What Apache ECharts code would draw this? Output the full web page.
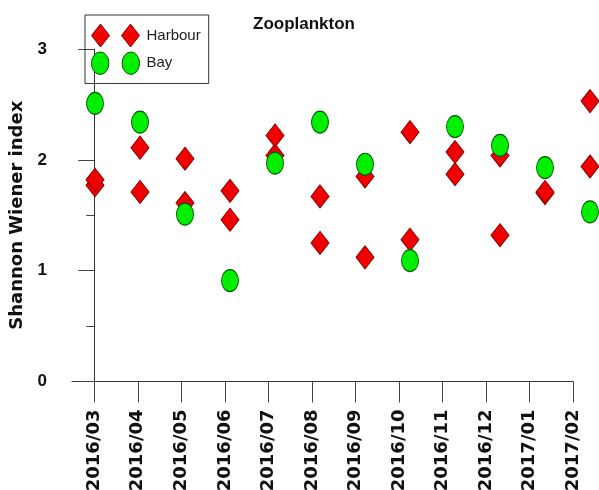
<!DOCTYPE html>
<html>
<head>
<meta charset="utf-8">
<script src="https://cdn.jsdelivr.net/npm/echarts@6/dist/echarts.min.js"></script>
<style>html,body{margin:0;padding:0;background:#fff}#c{width:599px;height:490px}</style>
</head>
<body>
<div id="c"></div>
<script>
const months = ['2016/03','2016/04','2016/05','2016/06','2016/07','2016/08','2016/09','2016/10','2016/11','2016/12','2017/01','2017/02'];
const harbourA = [1.82, 2.11, 2.01, 1.72, 2.22, 1.67, 1.85, 2.25, 2.07, 2.04, 1.71, 2.53];
const harbourB = [1.77, 1.71, 1.61, 1.46, 2.04, 1.25, 1.12, 1.28, 1.87, 1.32, 1.70, 1.94];
const bay      = [2.51, 2.34, 1.51, 0.91, 1.97, 2.34, 1.96, 1.09, 2.30, 2.13, 1.93, 1.53];
const yMin = 0, yMax = 3;

const idx = months.map((m, i) => i);
const pairs = arr => arr.map((v, i) => [i, v]);

const redStyle = { color: '#f00000', borderColor: '#8a0000', borderWidth: 1, opacity: 1 };
const greenStyle = { color: '#00ee00', borderColor: '#005a00', borderWidth: 1, opacity: 1 };
const twoDiamonds = 'path://M9,0 L18,11.5 L9,23 L0,11.5 Z M39,0 L48,11.5 L39,23 L30,11.5 Z';
const twoCircles = 'path://M8.5,0 A8.5,11 0 1,1 8.5,22 A8.5,11 0 1,1 8.5,0 Z M38.5,0 A8.5,11 0 1,1 38.5,22 A8.5,11 0 1,1 38.5,0 Z';

const chart = echarts.init(document.getElementById('c'));
chart.setOption({
  animation: false,
  backgroundColor: '#fff',
  title: {
    text: 'Zooplankton', left: 248, top: 11,
    textStyle: { fontFamily: 'Liberation Sans, Arial, sans-serif', fontWeight: 'bold', fontSize: 17, color: '#111' }
  },
  legend: {
    orient: 'vertical', left: 85, top: 15,
    padding: [8.5, 8, 8.5, 6], itemGap: 4,
    itemWidth: 48, itemHeight: 23,
    borderColor: '#333', borderWidth: 1,
    textStyle: { fontFamily: "'Liberation Sans', Arial, sans-serif", fontSize: 15, color: '#222', padding: [0,0,0,2] },
    data: [
      { name: 'Harbour', icon: twoDiamonds, itemStyle: redStyle },
      { name: 'Bay', icon: twoCircles, itemStyle: greenStyle }
    ],
    selectedMode: false
  },
  grid: [
    { left: 72, right: 26, top: 49, bottom: 108.5, outerBoundsMode: 'none', containLabel: false },
    { left: 95, right: 9, top: 49, bottom: 108.5, outerBoundsMode: 'none', containLabel: false }
  ],
  xAxis: [
    {
      type: 'value', gridIndex: 0, min: -0.512, max: 11,
      axisLine: { show: true, onZero: false, lineStyle: { color: '#333', width: 1 } },
      axisTick: { show: true, inside: false, length: 21, customValues: idx, lineStyle: { color: '#444' } },
      axisLabel: {
        show: true, rotate: 90, margin: 28, customValues: idx,
        formatter: v => months[Math.round(v)] || '',
        fontFamily: 'DejaVu Sans, sans-serif', fontWeight: 'bold', fontSize: 18, color: '#111'
      },
      splitLine: { show: false }
    },
    {
      type: 'value', gridIndex: 1, min: 0, max: months.length - 1, show: false
    }
  ],
  yAxis: [
    {
      type: 'value', gridIndex: 0, min: yMin, max: yMax, interval: 1,
      name: 'Shannon Wiener index', nameLocation: 'middle', nameRotate: 90, nameGap: 40,
      nameTextStyle: { fontFamily: 'DejaVu Sans, sans-serif', fontWeight: 'bold', fontSize: 18, color: '#111' },
      axisLine: { show: true, lineStyle: { color: '#333', width: 1 } },
      axisTick: { show: true, inside: false, length: 16, lineStyle: { color: '#444' } },
      minorTick: { show: true, splitNumber: 2, length: 8, lineStyle: { color: '#444' } },
      axisLabel: { margin: 25, fontFamily: 'Liberation Sans, Arial, sans-serif', fontWeight: 'bold', fontSize: 17, color: '#111' },
      splitLine: { show: false }
    },
    {
      type: 'value', gridIndex: 1, min: yMin, max: yMax, show: false
    }
  ],
  series: [
    { name: 'Harbour', type: 'scatter', xAxisIndex: 1, yAxisIndex: 1, symbol: 'diamond', symbolSize: [18, 23], itemStyle: redStyle, data: pairs(harbourB) },
    { name: 'Harbour', type: 'scatter', xAxisIndex: 1, yAxisIndex: 1, symbol: 'diamond', symbolSize: [18, 23], itemStyle: redStyle, data: pairs(harbourA) },
    { name: 'Bay', type: 'scatter', xAxisIndex: 1, yAxisIndex: 1, symbol: 'circle', symbolSize: [17, 22], itemStyle: greenStyle, data: pairs(bay) }
  ]
});
</script>
</body>
</html>
